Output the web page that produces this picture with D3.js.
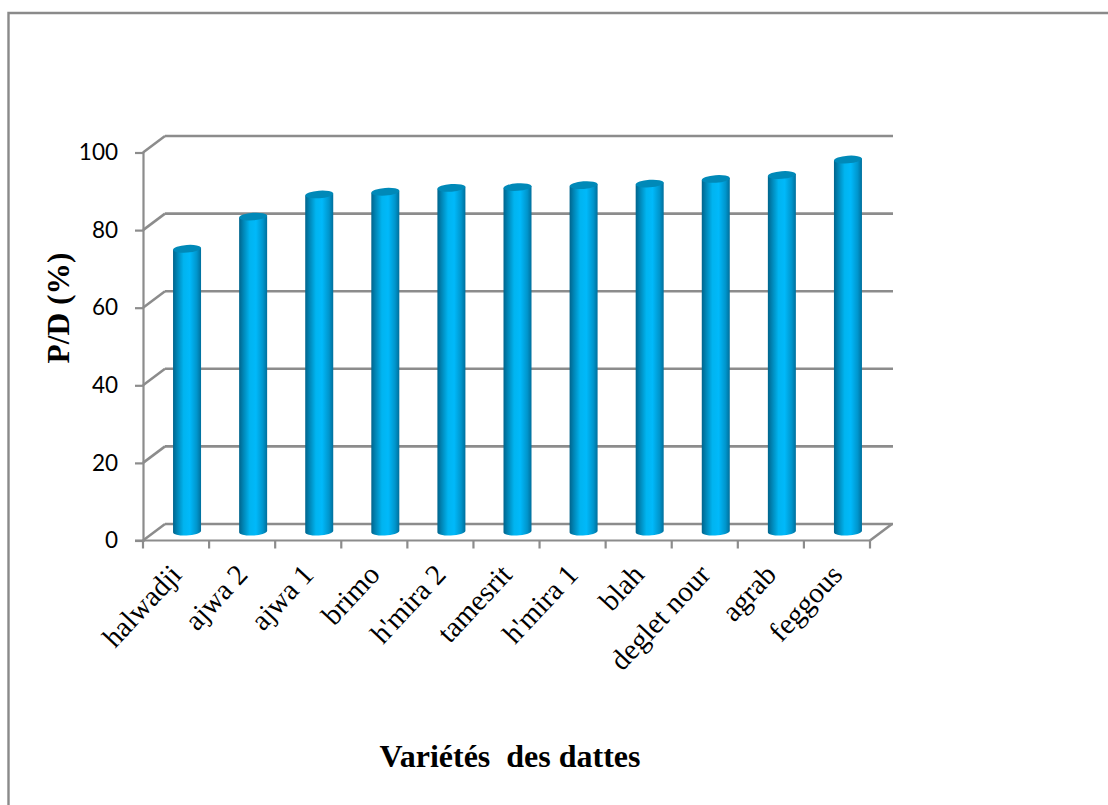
<!DOCTYPE html>
<html>
<head>
<meta charset="utf-8">
<script src="https://cdn.jsdelivr.net/npm/d3@7"></script>
<style>
html, body { margin: 0; padding: 0; background: #fff; }
svg { display: block; }
text { font-family: Lato, sans-serif; fill: #000; }
.serif { font-family: "Liberation Serif", serif; }
</style>
</head>
<body>
<svg id="chart" width="1108" height="805"></svg>
<script>
// Pulp-to-date ratio by date variety
const varieties = ["halwadji", "ajwa 2", "ajwa 1", "brimo", "h'mira 2", "tamesrit", "h'mira 1", "blah", "deglet nour", "agrab", "feggous"];
const ratios = [73, 81.3, 87, 87.7, 88.7, 88.9, 89.4, 89.8, 91, 92, 96];
const yTicks = [0, 20, 40, 60, 80, 100];

const svg = d3.select("#chart");
const grey = "#8c8c8c";

// Frame: left and top edges only
svg.append("path").attr("d", "M8.5,805 V13 H1108")
  .attr("fill", "none").attr("stroke", "#8a8a8a").attr("stroke-width", 2.4);

// Front plane scales; the back wall and the bars are shifted by a depth offset
const x = d3.scaleBand().domain(varieties).range([143, 870]);
const y = d3.scaleLinear().domain([0, 100]).range([540.5, 152.5]);
const depth = { dx: 22, dy: -16.5 };
const barDepth = { dx: 11, dy: -8.5 };
const barWidth = 28;
const capRy = 3.8;

// Cylinder shading
const defs = svg.append("defs");
const grad = defs.append("linearGradient").attr("id", "cyl");
[[0, "#00648c"], [0.15, "#0085b5"], [0.38, "#00b4f0"], [0.6, "#00b9fa"], [0.85, "#0095cc"], [1, "#006f9c"]]
  .forEach(([o, c]) => grad.append("stop").attr("offset", o).attr("stop-color", c));

// Back wall gridlines and the floor/side connectors
const wall = svg.append("g").attr("fill", "none").attr("stroke", grey).attr("stroke-width", 2.6);
yTicks.forEach(t => {
  wall.append("line")
    .attr("x1", 143 + depth.dx).attr("x2", 870 + depth.dx + 1)
    .attr("y1", y(t) + depth.dy).attr("y2", y(t) + depth.dy);
  wall.append("line")
    .attr("x1", 143).attr("x2", 143 + depth.dx)
    .attr("y1", y(t)).attr("y2", y(t) + depth.dy);
});
wall.append("line").attr("x1", 870).attr("x2", 870 + depth.dx)
  .attr("y1", y(0)).attr("y2", y(0) + depth.dy);

// Front axes
const yAxis = d3.axisLeft(y).tickValues(yTicks).tickSize(8).tickPadding(17);
const yG = svg.append("g").attr("transform", "translate(143,0)").call(yAxis);
yG.selectAll("path, line").attr("stroke", grey).attr("stroke-width", 2.2);
yG.selectAll("text").attr("font-size", 22.5).attr("font-family", "Lato, sans-serif");

const xEdges = varieties.map(v => x(v)).concat(870);
const xAxisG = svg.append("g").attr("stroke", grey).attr("stroke-width", 2.2);
xAxisG.append("line").attr("x1", 135).attr("x2", 870).attr("y1", y(0)).attr("y2", y(0));
xAxisG.selectAll("line.tick").data(xEdges).join("line").attr("class", "tick")
  .attr("x1", d => d).attr("x2", d => d).attr("y1", y(0)).attr("y2", y(0) + 8);

// Cylindrical bars
const barCx = v => x(v) + x.bandwidth() / 2 + barDepth.dx;
const bars = svg.append("g").selectAll("g").data(varieties).join("g");
bars.append("path")
  .attr("fill", "url(#cyl)")
  .attr("d", (v, i) => {
    const cx = barCx(v);
    const top = y(ratios[i]) + barDepth.dy;
    const base = y(0) + barDepth.dy;
    const r = barWidth / 2;
    return `M${cx - r},${top + 1} L${cx - r},${base} A${r},4 -3 0 0 ${cx + r},${base - 1} L${cx + r},${top - 1} Z`;
  });
bars.append("ellipse")
  .attr("cx", barCx)
  .attr("cy", (v, i) => y(ratios[i]) + barDepth.dy)
  .attr("rx", barWidth / 2).attr("ry", capRy)
  .attr("fill", "#0089b8")
  .attr("transform", (v, i) => `rotate(-4 ${barCx(v)} ${y(ratios[i]) + barDepth.dy})`);

// Slanted category labels
svg.append("g").selectAll("text").data(varieties).join("text")
  .attr("class", "serif")
  .attr("font-size", 29)
  .attr("text-anchor", "end")
  .attr("transform", v => `translate(${x(v) + x.bandwidth() / 2 + 7},${576}) rotate(-47)`)
  .text(v => v);

// Axis titles
svg.append("text").attr("class", "serif").attr("font-weight", "bold").attr("font-size", 31.5)
  .attr("text-anchor", "middle")
  .attr("transform", "translate(69,308) rotate(-90)")
  .text("P/D (%)");
svg.append("text").attr("class", "serif").attr("font-weight", "bold").attr("font-size", 32)
  .attr("text-anchor", "middle").attr("x", 510).attr("y", 767)
  .attr("xml:space", "preserve")
  .text("Variétés  des dattes");
</script>
</body>
</html>
